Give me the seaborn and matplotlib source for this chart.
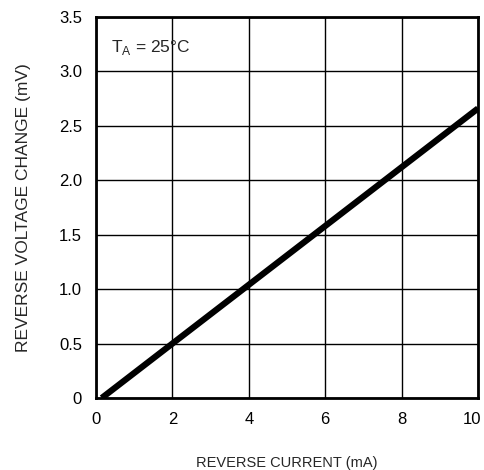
import matplotlib
matplotlib.use("Agg")
import matplotlib.pyplot as plt
import matplotlib.transforms as mtransforms
import seaborn as sns
import pandas as pd

reverse_current_ma = [0.15, 2.0, 4.0, 6.0, 8.0, 10.0]
reverse_voltage_change_mv = [0.0, 0.5, 1.04, 1.58, 2.12, 2.66]
x_ticks = [0, 2, 4, 6, 8, 10]
y_ticks = [0, 0.5, 1.0, 1.5, 2.0, 2.5, 3.0, 3.5]
y_tick_labels = ["0", "0.5", "1.0", "1.5", "2.0", "2.5", "3.0", "3.5"]

sns.set_style("white")
plt.rcParams['font.family'] = ['Liberation Sans', 'DejaVu Sans']

df = pd.DataFrame({"I": reverse_current_ma, "V": reverse_voltage_change_mv})

fig = plt.figure(figsize=(4.84, 4.70), dpi=100)
ax = fig.add_axes([96/484, 72/470, 382/484, 381/470])
sns.lineplot(data=df, x="I", y="V", ax=ax, color="black", linewidth=4.5, solid_capstyle="butt")

ax.set_xlim(0, 10)
ax.set_ylim(0, 3.5)
ax.set_xticks(x_ticks)
ax.set_xticklabels([str(t) for t in x_ticks])
ax.set_yticks(y_ticks)
ax.set_yticklabels(y_tick_labels)
ax.grid(True, color="black", linewidth=1.0)
ax.set_axisbelow(True)
for s in ax.spines.values():
    s.set_color("black")
    s.set_linewidth(2.0)
ax.tick_params(axis="both", length=0, labelsize=12, colors="black", pad=10)
# nudge last x tick label left so it stays inside the figure
last = ax.get_xticklabels()[-1]
last.set_transform(last.get_transform() + mtransforms.ScaledTranslation(-6/100, 0, fig.dpi_scale_trans))

ax.set_xlabel("REVERSE CURRENT (mA)", fontsize=10.5, labelpad=21)
ax.set_ylabel("REVERSE VOLTAGE CHANGE (mV)", fontsize=12.5, labelpad=20)
ax.text(0.4, 3.22, r"T$_\mathregular{A}$ = 25°C", fontsize=12.5, ha="left", va="center")

fig.savefig("out.png", dpi=100)
